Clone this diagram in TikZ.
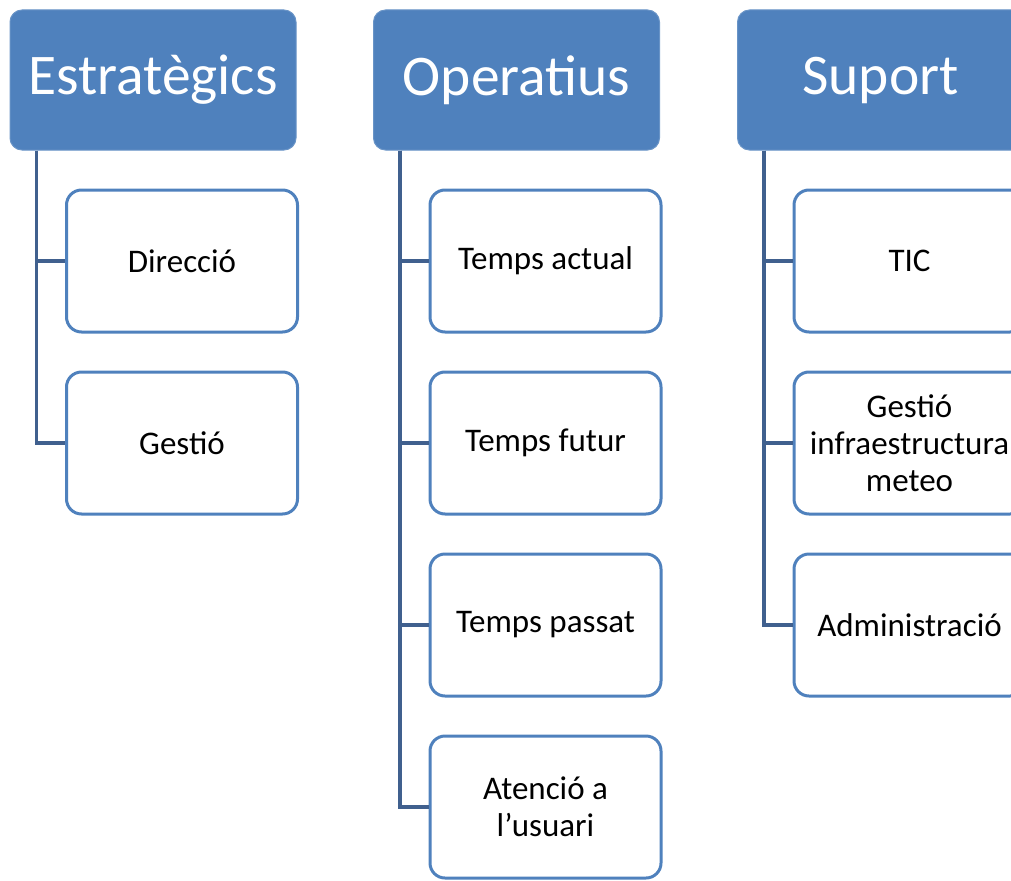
\documentclass[tikz,border=0pt]{standalone}
\usepackage{fontspec}
\setmainfont{Carlito}
\usetikzlibrary{positioning}
\definecolor{hdrblue}{RGB}{79,129,189}
\definecolor{linkblue}{RGB}{64,96,142}

\begin{document}
\begin{tikzpicture}[x=1pt, y=1pt, node distance=37pt]
    \tikzstyle{group}=[rectangle, rounded corners=12pt, fill=hdrblue, draw=hdrblue!85!white, line width=1pt,
        minimum width=286pt, minimum height=140pt, text=white, font=\fontsize{57.5}{63}\selectfont]
    \tikzstyle{task}=[rectangle, rounded corners=15pt, fill=white, draw=hdrblue, line width=3pt,
        minimum width=231pt, minimum height=142pt, align=center, text=black, font=\fontsize{33}{37}\selectfont]
    \tikzstyle{link}=[draw=linkblue, line width=3.2pt]
    \useasboundingbox (0,0) rectangle (1011,-880);

    \node[group]    (E) at (153,-80)      {Estratègics};
    \node[group]    (O) at (516.5,-80)    {Operatius};
    \node[group]    (S) at (880.5,-80)    {Suport};

    \node[task]     (E1)[below right=38pt and 55.5pt of E.south west, anchor=north west] {Direcció};
    \node[task]     (E2)[below=of E1]     {Gestió};

    \node[task]     (O1)[below right=38pt and 55.5pt of O.south west, anchor=north west] {Temps actual};
    \node[task]     (O2)[below=of O1]     {Temps futur};
    \node[task]     (O3)[below=of O2]     {Temps passat};
    \node[task]     (O4)[below=of O3]     {Atenció a\\l’usuari};

    \node[task]     (S1)[below right=38pt and 55.5pt of S.south west, anchor=north west] {TIC};
    \node[task]     (S2)[below=of S1]     {Gestió\\infraestructura\\meteo};
    \node[task]     (S3)[below=of S2]     {Administració};

    \foreach \g/\t in {E/E1, E/E2, O/O1, O/O2, O/O3, O/O4, S/S1, S/S2, S/S3}
        \draw[link] ([xshift=27pt]\g.south west) |- (\t.west);
\end{tikzpicture}
\end{document}
